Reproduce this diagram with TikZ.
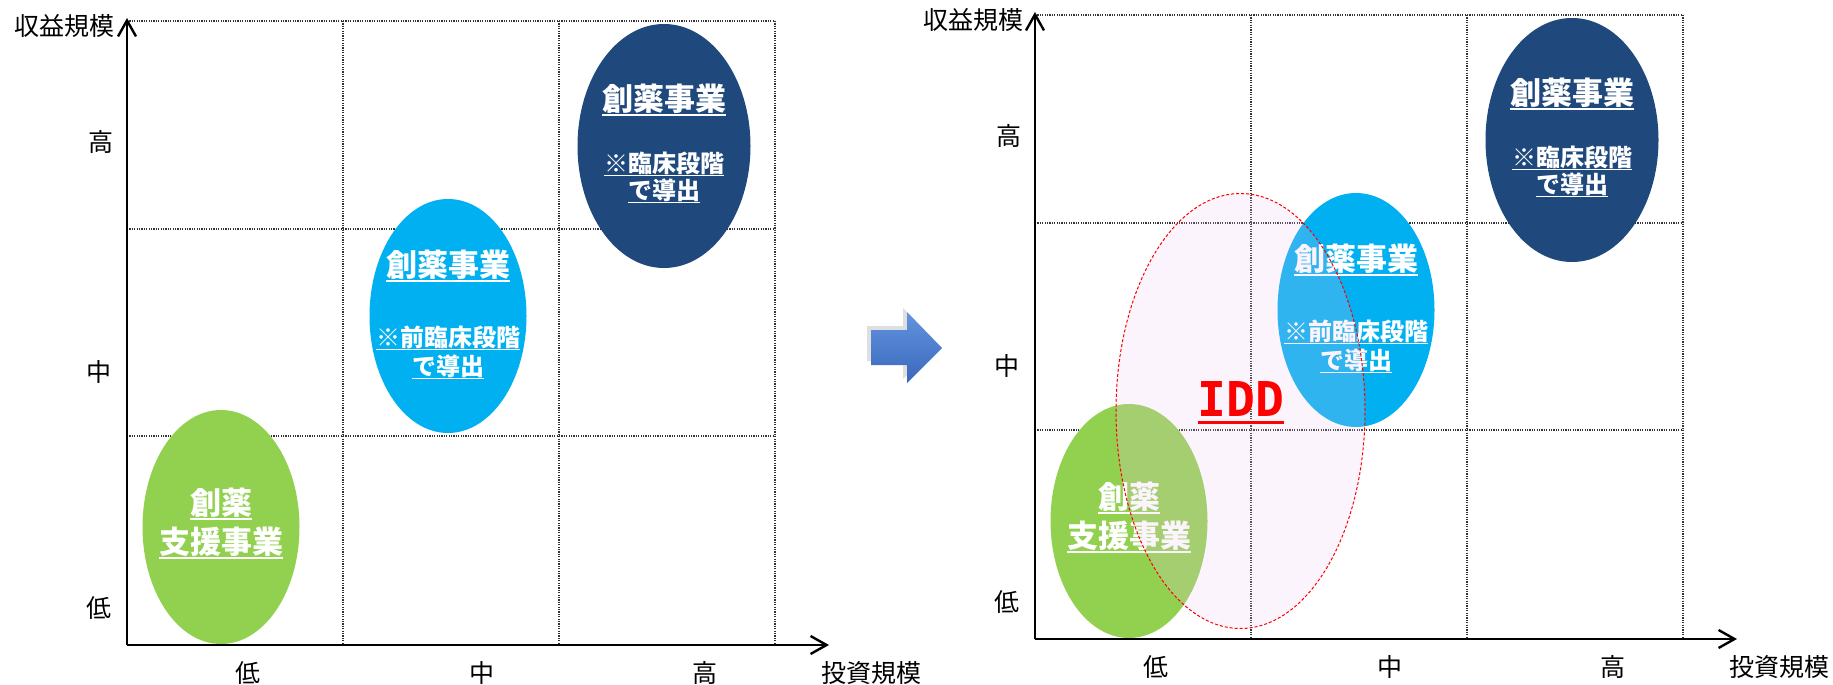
\documentclass[tikz,border=0pt]{standalone}
\usepackage{fontspec}
\setmainfont{Noto Sans CJK JP}
\newfontfamily\iddfont{DejaVu Sans Mono}
\usetikzlibrary{calc, positioning, arrows.meta, shapes.geometric, shadows}

\definecolor{greenfill}{HTML}{92D050}
\definecolor{skyfill}{HTML}{00B0F0}
\definecolor{navyfill}{HTML}{1F497D}
\definecolor{iddpink}{RGB}{240,200,240}
\definecolor{arrowtop}{RGB}{98,148,222}
\definecolor{arrowbottom}{RGB}{58,104,188}

\newsavebox{\ulsave}
\newcommand{\ultext}[1]{\sbox{\ulsave}{#1}\rlap{\rule[-0.16em]{\wd\ulsave}{0.07em}}\usebox{\ulsave}}

\begin{document}
\begin{tikzpicture}[
    x=0.5pt, y=-0.5pt,
    gridline/.style={draw=black!80, line width=0.6pt, dash pattern=on 0.6pt off 0.6pt},
    axisline/.style={line width=1.2pt, -{Straight Barb[length=8pt, width=9pt]}},
    scale label/.style={font=\fontsize{12.5pt}{14pt}\selectfont, inner sep=0pt},
    bubble/.style={ellipse, draw=none, inner sep=0pt, minimum width=78.5pt, minimum height=117pt},
    bubbletitle/.style={text=white, font=\fontsize{15.5pt}{18pt}\selectfont\bfseries, inner sep=0pt},
    bubblenote/.style={text=white, font=\fontsize{12pt}{14pt}\selectfont\bfseries, inner sep=0pt},
  ]
  \useasboundingbox (0,0) rectangle (1833,685);

  % beide Portfolio-Diagramme (links vorher, rechts nachher)
  \foreach \side/\dx/\dy in {L/0/0, R/908/-6} {
    \begin{scope}[shift={(\dx,\dy)}]
      % Raster
      \foreach \gx in {127,343,559,775} \draw[gridline] (\gx,21) -- (\gx,645);
      \foreach \gy in {21,229,436,645} \draw[gridline] (127,\gy) -- (775,\gy);

      % Achsen
      \coordinate (\side-o) at (127,645);
      \coordinate (\side-xend) at (829,645);
      \coordinate (\side-yend) at (127,18);
      \draw[axisline] (\side-o) -- (\side-xend);
      \draw[axisline] (\side-o) -- (\side-yend);

      \node[scale label] (\side-ytitle) at (65,26) {収益規模};
      \node[scale label] (\side-yhigh) at (101,142) {高};
      \node[scale label] (\side-ymid) at (99,372) {中};
      \node[scale label] (\side-ylow) at (99,608) {低};
      \node[scale label] (\side-xlow) at (248,673) {低};
      \node[scale label] (\side-xmid) at (482,673) {中};
      \node[scale label] (\side-xhigh) at (705,673) {高};
      \node[scale label] (\side-xtitle) at (871,673) {投資規模};

      % Geschäftsfelder
      \node[bubble, fill=greenfill] (\side-green) at (221,527) {};
      \node[bubbletitle] (\side-green-a) at ($(\side-green)+(0,-23)$) {\ultext{創薬}};
      \node[bubbletitle] (\side-green-b) at ($(\side-green)+(0,16)$) {\ultext{支援事業}};

      \node[bubble, fill=skyfill] (\side-sky) at (448,316) {};
      \node[bubbletitle] (\side-sky-a) at ($(\side-sky)+(0,-50)$) {\ultext{創薬事業}};
      \node[bubblenote] (\side-sky-b) at ($(\side-sky)+(0,22)$) {\ultext{※前臨床段階}};
      \node[bubblenote] (\side-sky-c) at ($(\side-sky)+(0,51)$) {\ultext{で導出}};

      \node[bubble, fill=navyfill, minimum width=86.5pt, minimum height=122pt] (\side-navy) at (664,146) {};
      \node[bubbletitle] (\side-navy-a) at ($(\side-navy)+(0,-46)$) {\ultext{創薬事業}};
      \node[bubblenote] (\side-navy-b) at ($(\side-navy)+(0,18)$) {\ultext{※臨床段階}};
      \node[bubblenote] (\side-navy-c) at ($(\side-navy)+(0,45)$) {\ultext{で導出}};
    \end{scope}
  }

  % Übergangspfeil
  \path[top color=arrowtop, bottom color=arrowbottom,
        drop shadow={shadow xshift=-2pt, shadow yshift=2pt, opacity=0.25}]
    (871,330) -- (907,330) -- (907,312) -- (942,348) -- (907,383) -- (907,365) -- (871,365) -- cycle;

  % IDD-Bereich
  \node[ellipse, inner sep=0pt, minimum width=124.5pt, minimum height=217.5pt,
        fill=iddpink, fill opacity=0.2, draw=red, draw opacity=1, line width=0.5pt,
        dash pattern=on 1.5pt off 1pt] (idd) at (1240.5,411) {};
  \node[text=red, font=\iddfont\fontsize{24pt}{26pt}\selectfont\bfseries, inner sep=0pt] (idd-label) at (1241,403) {\ultext{IDD}};
\end{tikzpicture}
\end{document}
